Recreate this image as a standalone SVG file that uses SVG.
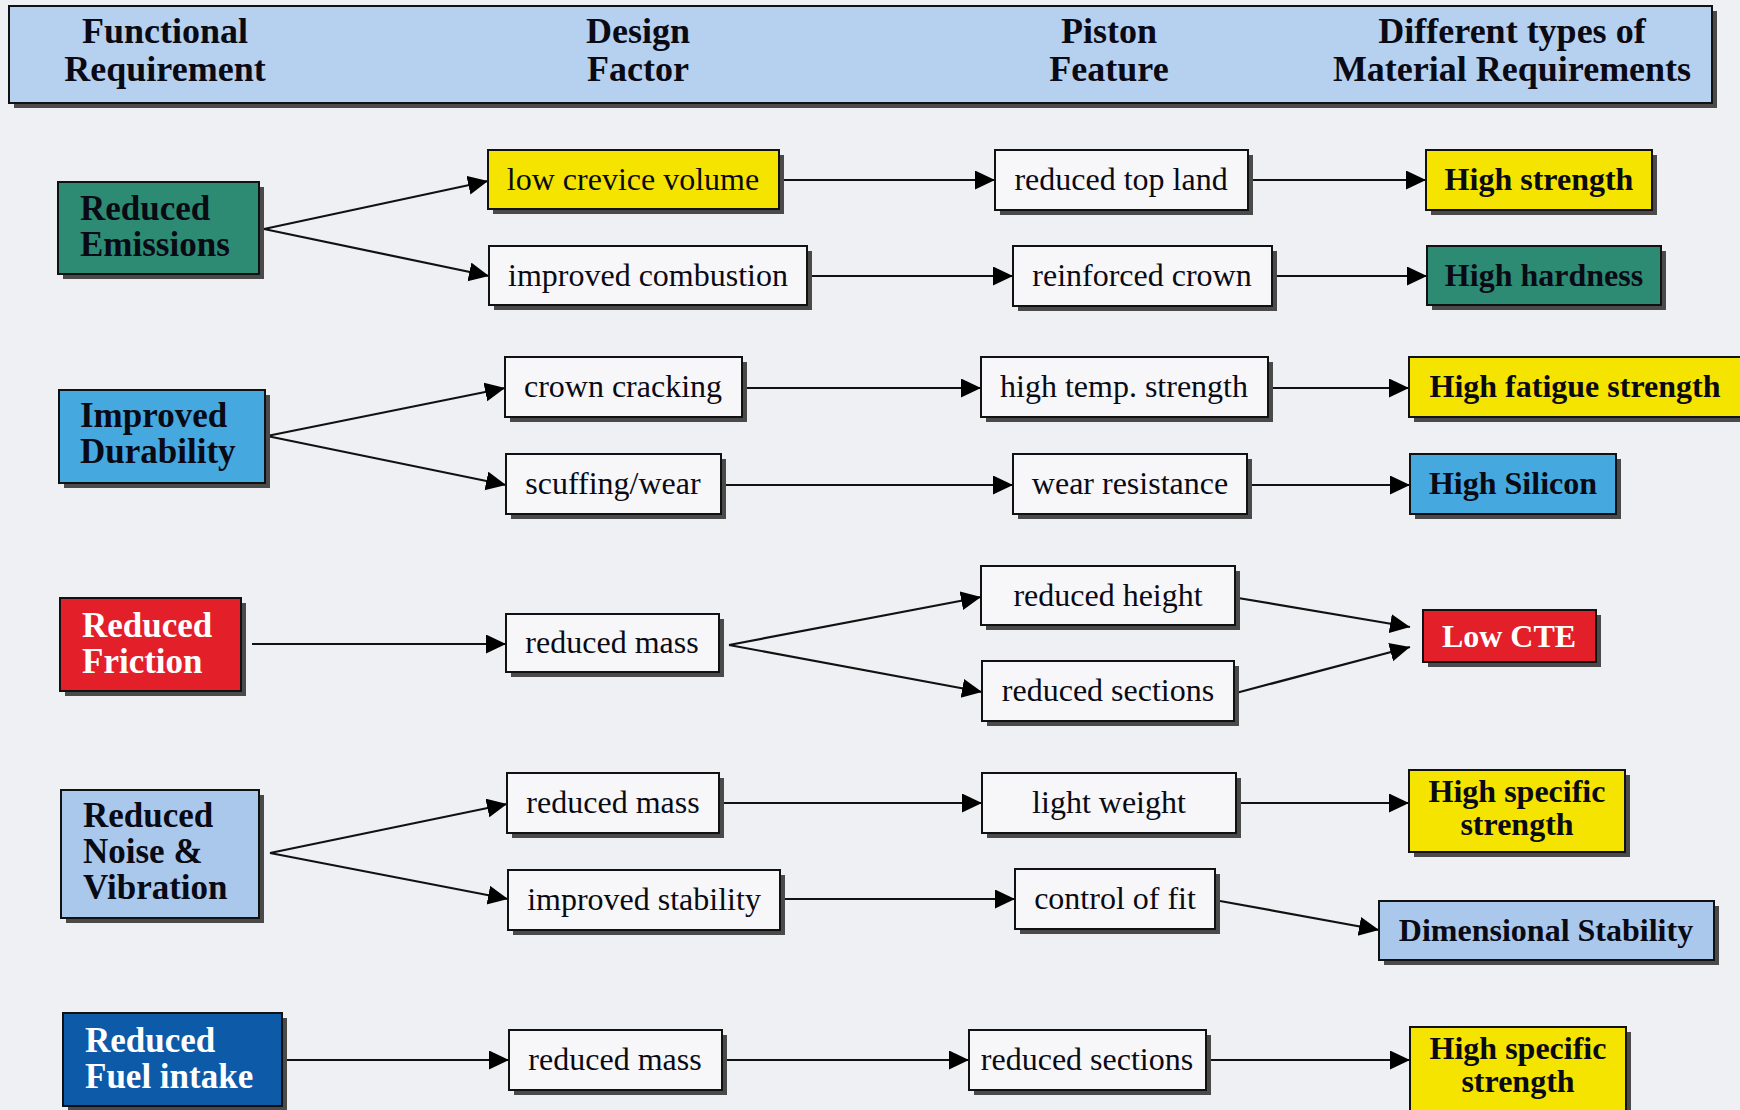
<svg xmlns="http://www.w3.org/2000/svg" width="1740" height="1110" viewBox="0 0 1740 1110">
<defs>
<marker id="arr" markerUnits="userSpaceOnUse" markerWidth="21" markerHeight="20" refX="20" refY="9.5" orient="auto">
<path d="M0,0 L20,9.5 L0,19 z" fill="#000"/>
</marker>
<style>
.bg{fill:#eff0f3}
.sh{fill:#4a4a4a}
.bx{stroke:#111;stroke-width:2}
.w{fill:#f7f7f9}
.yel{fill:#f4e400}
.teal{fill:#2d8b74}
.blu{fill:#45a8de}
.red{fill:#e3202a}
.lb{fill:#a9c8ec}
.db{fill:#0c5aa8}
.hd{fill:#b6d0ef}
text{font-family:"Liberation Serif","Times New Roman",serif;fill:#0a0a14}
.h{font-size:36px;font-weight:bold;text-anchor:middle}
.f{font-size:35px;font-weight:bold}
.r{font-size:32px;text-anchor:middle}
.m{font-size:32px;font-weight:bold;text-anchor:middle}
.wt{fill:#ffffff}
.c{fill:none;stroke:#111;stroke-width:2.2;marker-end:url(#arr)}
</style>
</defs>
<rect class="bg" x="0" y="0" width="1740" height="1110"/>

<g id="header">
<rect class="sh" x="14" y="11" width="1703" height="97"/>
<rect class="bx hd" x="9" y="6" width="1703" height="97"/>
<text class="h" x="165" y="43">Functional</text>
<text class="h" x="165" y="81">Requirement</text>
<text class="h" x="638" y="43">Design</text>
<text class="h" x="638" y="81">Factor</text>
<text class="h" x="1109" y="43">Piston</text>
<text class="h" x="1109" y="81">Feature</text>
<text class="h" x="1512" y="43">Different types of</text>
<text class="h" x="1512" y="81">Material Requirements</text>
</g>

<g id="connectors">
<line class="c" x1="264" y1="229" x2="488" y2="181"/>
<line class="c" x1="264" y1="229" x2="489" y2="276"/>
<line class="c" x1="779" y1="180" x2="995" y2="180"/>
<line class="c" x1="1248" y1="180" x2="1426" y2="180"/>
<line class="c" x1="807" y1="276" x2="1013" y2="276"/>
<line class="c" x1="1272" y1="276" x2="1427" y2="276"/>

<line class="c" x1="267" y1="436" x2="505" y2="388"/>
<line class="c" x1="267" y1="436" x2="506" y2="485"/>
<line class="c" x1="742" y1="388" x2="981" y2="388"/>
<line class="c" x1="1268" y1="388" x2="1409" y2="388"/>
<line class="c" x1="721" y1="485" x2="1013" y2="485"/>
<line class="c" x1="1247" y1="485" x2="1410" y2="485"/>

<line class="c" x1="252" y1="644" x2="506" y2="644"/>
<line class="c" x1="729" y1="645" x2="981" y2="597"/>
<line class="c" x1="729" y1="645" x2="982" y2="692"/>
<line class="c" x1="1238" y1="598" x2="1410" y2="627"/>
<line class="c" x1="1236" y1="693" x2="1410" y2="647"/>

<line class="c" x1="270" y1="853" x2="507" y2="804"/>
<line class="c" x1="270" y1="853" x2="508" y2="899"/>
<line class="c" x1="719" y1="803" x2="982" y2="803"/>
<line class="c" x1="1236" y1="803" x2="1409" y2="803"/>
<line class="c" x1="780" y1="899" x2="1015" y2="899"/>
<line class="c" x1="1220" y1="901" x2="1379" y2="930"/>

<line class="c" x1="282" y1="1060" x2="509" y2="1060"/>
<line class="c" x1="722" y1="1060" x2="969" y2="1060"/>
<line class="c" x1="1206" y1="1060" x2="1410" y2="1060"/>
</g>

<g id="fr_emissions">
<rect class="sh" x="63" y="187" width="201" height="92"/>
<rect class="bx teal" x="58" y="182" width="201" height="92"/>
<text class="f" x="80" y="220">Reduced</text>
<text class="f" x="80" y="256">Emissions</text>
</g>
<g id="fr_durability">
<rect class="sh" x="64" y="395" width="206" height="93"/>
<rect class="bx blu" x="59" y="390" width="206" height="93"/>
<text class="f" x="80" y="427">Improved</text>
<text class="f" x="80" y="463">Durability</text>
</g>
<g id="fr_friction">
<rect class="sh" x="65" y="603" width="181" height="93"/>
<rect class="bx red" x="60" y="598" width="181" height="93"/>
<text class="f wt" x="82" y="637">Reduced</text>
<text class="f wt" x="82" y="673">Friction</text>
</g>
<g id="fr_noise">
<rect class="sh" x="66" y="795" width="198" height="128"/>
<rect class="bx lb" x="61" y="790" width="198" height="128"/>
<text class="f" x="83" y="827">Reduced</text>
<text class="f" x="83" y="863">Noise &amp;</text>
<text class="f" x="83" y="899">Vibration</text>
</g>
<g id="fr_fuel">
<rect class="sh" x="68" y="1018" width="219" height="93"/>
<rect class="bx db" x="63" y="1013" width="219" height="93"/>
<text class="f wt" x="85" y="1052">Reduced</text>
<text class="f wt" x="85" y="1088">Fuel intake</text>
</g>

<g id="df_crevice">
<rect class="sh" x="493" y="155" width="291" height="59"/>
<rect class="bx yel" x="488" y="150" width="291" height="59"/>
<text class="r" x="633" y="190">low crevice volume</text>
</g>
<g id="df_combustion">
<rect class="sh" x="494" y="251" width="318" height="59"/>
<rect class="bx w" x="489" y="246" width="318" height="59"/>
<text class="r" x="648" y="286">improved combustion</text>
</g>
<g id="df_cracking">
<rect class="sh" x="510" y="362" width="237" height="60"/>
<rect class="bx w" x="505" y="357" width="237" height="60"/>
<text class="r" x="623" y="397">crown cracking</text>
</g>
<g id="df_scuffing">
<rect class="sh" x="511" y="459" width="215" height="60"/>
<rect class="bx w" x="506" y="454" width="215" height="60"/>
<text class="r" x="613" y="494">scuffing/wear</text>
</g>
<g id="df_mass1">
<rect class="sh" x="511" y="619" width="213" height="58"/>
<rect class="bx w" x="506" y="614" width="213" height="58"/>
<text class="r" x="612" y="653">reduced mass</text>
</g>
<g id="df_mass2">
<rect class="sh" x="512" y="778" width="212" height="60"/>
<rect class="bx w" x="507" y="773" width="212" height="60"/>
<text class="r" x="613" y="813">reduced mass</text>
</g>
<g id="df_stability">
<rect class="sh" x="513" y="875" width="272" height="60"/>
<rect class="bx w" x="508" y="870" width="272" height="60"/>
<text class="r" x="644" y="910">improved stability</text>
</g>
<g id="df_mass3">
<rect class="sh" x="514" y="1035" width="213" height="60"/>
<rect class="bx w" x="509" y="1030" width="213" height="60"/>
<text class="r" x="615" y="1070">reduced mass</text>
</g>

<g id="pf_topland">
<rect class="sh" x="1000" y="155" width="253" height="60"/>
<rect class="bx w" x="995" y="150" width="253" height="60"/>
<text class="r" x="1121" y="190">reduced top land</text>
</g>
<g id="pf_crown">
<rect class="sh" x="1018" y="251" width="259" height="60"/>
<rect class="bx w" x="1013" y="246" width="259" height="60"/>
<text class="r" x="1142" y="286">reinforced crown</text>
</g>
<g id="pf_hightemp">
<rect class="sh" x="986" y="362" width="287" height="60"/>
<rect class="bx w" x="981" y="357" width="287" height="60"/>
<text class="r" x="1124" y="397">high temp. strength</text>
</g>
<g id="pf_wear">
<rect class="sh" x="1018" y="459" width="234" height="60"/>
<rect class="bx w" x="1013" y="454" width="234" height="60"/>
<text class="r" x="1130" y="494">wear resistance</text>
</g>
<g id="pf_height">
<rect class="sh" x="986" y="571" width="254" height="59"/>
<rect class="bx w" x="981" y="566" width="254" height="59"/>
<text class="r" x="1108" y="606">reduced height</text>
</g>
<g id="pf_sections1">
<rect class="sh" x="987" y="666" width="252" height="60"/>
<rect class="bx w" x="982" y="661" width="252" height="60"/>
<text class="r" x="1108" y="701">reduced sections</text>
</g>
<g id="pf_light">
<rect class="sh" x="987" y="778" width="254" height="60"/>
<rect class="bx w" x="982" y="773" width="254" height="60"/>
<text class="r" x="1109" y="813">light weight</text>
</g>
<g id="pf_fit">
<rect class="sh" x="1020" y="874" width="200" height="60"/>
<rect class="bx w" x="1015" y="869" width="200" height="60"/>
<text class="r" x="1115" y="909">control of fit</text>
</g>
<g id="pf_sections2">
<rect class="sh" x="974" y="1035" width="237" height="60"/>
<rect class="bx w" x="969" y="1030" width="237" height="60"/>
<text class="r" x="1087" y="1070">reduced sections</text>
</g>

<g id="mr_strength">
<rect class="sh" x="1431" y="155" width="226" height="60"/>
<rect class="bx yel" x="1426" y="150" width="226" height="60"/>
<text class="m" x="1539" y="190">High strength</text>
</g>
<g id="mr_hardness">
<rect class="sh" x="1432" y="251" width="234" height="59"/>
<rect class="bx teal" x="1427" y="246" width="234" height="59"/>
<text class="m" x="1544" y="286">High hardness</text>
</g>
<g id="mr_fatigue">
<rect class="sh" x="1414" y="362" width="335" height="60"/>
<rect class="bx yel" x="1409" y="357" width="335" height="60"/>
<text class="m" x="1575" y="397">High fatigue strength</text>
</g>
<g id="mr_silicon">
<rect class="sh" x="1415" y="459" width="206" height="60"/>
<rect class="bx blu" x="1410" y="454" width="206" height="60"/>
<text class="m" x="1513" y="494">High Silicon</text>
</g>
<g id="mr_cte">
<rect class="sh" x="1428" y="615" width="173" height="52"/>
<rect class="bx red" x="1423" y="610" width="173" height="52"/>
<text class="m wt" x="1509" y="647">Low CTE</text>
</g>
<g id="mr_specific1">
<rect class="sh" x="1414" y="775" width="216" height="82"/>
<rect class="bx yel" x="1409" y="770" width="216" height="82"/>
<text class="m" x="1517" y="802">High specific</text>
<text class="m" x="1517" y="835">strength</text>
</g>
<g id="mr_dimensional">
<rect class="sh" x="1384" y="906" width="335" height="59"/>
<rect class="bx lb" x="1379" y="901" width="335" height="59"/>
<text class="m" x="1546" y="941">Dimensional Stability</text>
</g>
<g id="mr_specific2">
<rect class="sh" x="1415" y="1032" width="216" height="84"/>
<rect class="bx yel" x="1410" y="1027" width="216" height="84"/>
<text class="m" x="1518" y="1059">High specific</text>
<text class="m" x="1518" y="1092">strength</text>
</g>
</svg>
